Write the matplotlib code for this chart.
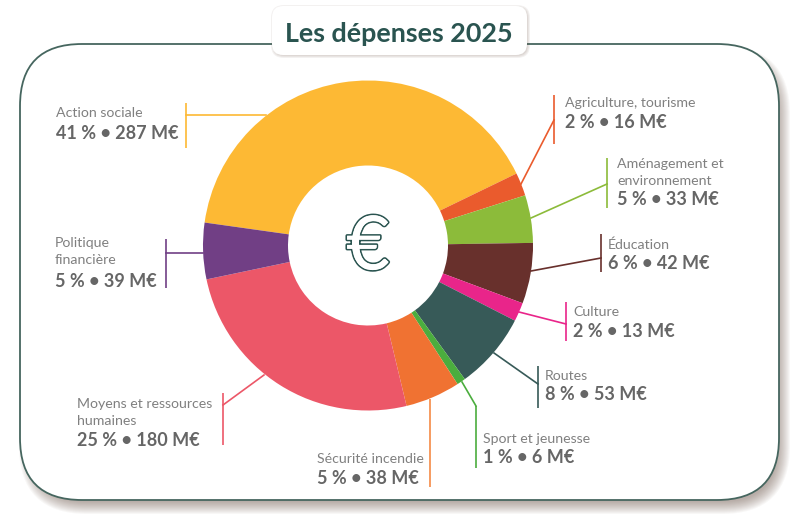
#!/usr/bin/env python3

import matplotlib
matplotlib.use('Agg')
import matplotlib.pyplot as plt
import matplotlib.patheffects as pe
from matplotlib.patches import FancyBboxPatch

plt.rcParams['font.family'] = ['Lato', 'DejaVu Sans']

# values in M€, clockwise from the top-left
names = ['Action sociale', 'Agriculture, tourisme', 'Aménagement et\nenvironnement', 'Éducation', 'Culture',
         'Routes', 'Sport et jeunesse', 'Sécurité incendie', 'Moyens et ressources\nhumaines', 'Politique\nfinancière']
amounts = [287, 16, 33, 42, 13, 53, 6, 38, 180, 39]
percents = [41, 2, 5, 6, 2, 8, 1, 5, 25, 5]
colors = ['#fdb934', '#ea5b2d', '#8cbb3a', '#68302c', '#e9258a', '#375a58', '#4bad3e', '#f07232', '#ec5768', '#713f85']
lineColors = ['#fdb934', '#ea5b2d', '#8cbb3a', '#68302c', '#e9258a', '#375a58', '#4bad3e', '#f58a45', '#ec5768', '#713f85']

# label anchor in pixels: x, baseline of the first name line, baseline of the value
labelPos = [(56, 117, 139), (565, 107, 128), (617, 168, 205), (608, 249, 269), (573, 316, 337),
            (545, 380, 400), (483, 443, 463), (317, 463, 484), (77, 408, 446), (55, 247, 287)]
# leader lines in pixels: tick x, tick top, tick bottom, then the polyline to the ring
leaders = [(186, 103, 148, [(186, 115), (266, 115)]),
           (554, 95, 144, [(554, 120), (521, 184)]),
           (607, 158, 208, [(607, 184), (531, 218)]),
           (601, 234, 272, [(601, 258), (531, 271)]),
           (566, 302, 341, [(566, 324), (519, 312)]),
           (538, 366, 408, [(538, 384), (494, 353)]),
           (476, 406, 468, [(476, 406), (462, 382)]),
           (430, 399, 487, [(430, 399), (430, 399)]),
           (223, 393, 445, [(223, 405), (264, 375)]),
           (166, 239, 288, [(166, 253), (203, 253)])]

W, H = 800, 525
darkGreen = '#2a5450'


def py(y):
    return H - y


def softShadow(ax, x0, y0, x1, y1, rad, dx, dy, spread, alpha, zorder):
    # stacked translucent boxes instead of a real blur
    for i in range(2 * spread + 1):
        grow = spread - i
        ax.add_patch(FancyBboxPatch((x0 + dx - grow, py(y1 + dy + grow)), x1 - x0 + 2 * grow, y1 - y0 + 2 * grow,
                                    boxstyle=f'round,pad=0,rounding_size={rad + grow}', fc='#6b4f45', ec='none',
                                    alpha=alpha, zorder=zorder))


fig = plt.figure(figsize=(W / 100, H / 100), dpi=100)
ax = fig.add_axes([0, 0, 1, 1])
ax.set_xlim(0, W)
ax.set_ylim(0, H)
ax.axis('off')

# frame
softShadow(ax, 20, 44, 779, 500, 62, 5, 8, 6, 0.045, 1)
ax.add_patch(FancyBboxPatch((20, py(500)), 759, 456, boxstyle='round,pad=0,rounding_size=62',
                            fc='white', ec='#46665f', lw=1.3, zorder=2))

# title tab
softShadow(ax, 272, 6, 527, 55, 11, 1, 1, 2, 0.08, 3)
ax.add_patch(FancyBboxPatch((272, py(55)), 255, 49, boxstyle='round,pad=0,rounding_size=11',
                            fc='white', ec='none', zorder=4))
ax.text(399, py(42), 'Les dépenses 2025', fontsize=19.4, fontweight='bold', color=darkGreen,
        ha='center', va='baseline', zorder=5)

# ring
wedges, _ = ax.pie(amounts, colors=colors, startangle=172, counterclock=False, center=(368, py(245.5)), radius=165,
                   frame=True, wedgeprops={'width': 85, 'linewidth': 0})
for w in wedges:
    w.set_zorder(6)
ax.set_xlim(0, W)
ax.set_ylim(0, H)
ax.set_aspect('equal')
ax.axis('off')

ax.text(368, py(248), '€', fontsize=54, color='white', ha='center', va='center', zorder=7,
        path_effects=[pe.withStroke(linewidth=2.4, foreground=darkGreen), pe.Normal()])

# leaders and labels
for i in range(len(names)):
    tickX, tickTop, tickBottom, poly = leaders[i]
    c = lineColors[i]
    ax.plot([tickX, tickX], [py(tickTop), py(tickBottom)], color=c, lw=1.2, zorder=5, solid_capstyle='butt')
    ax.plot([p[0] for p in poly], [py(p[1]) for p in poly], color=c, lw=1.2, zorder=5)

    x, yName, yValue = labelPos[i]
    for j, part in enumerate(names[i].split('\n')):
        ax.text(x, py(yName + j * 17), part, fontsize=10.2, color='#808080', ha='left', va='baseline', zorder=8)
    ax.text(x, py(yValue), f'{percents[i]} % • {amounts[i]} M€', fontsize=13, fontweight='bold', color='#666666',
            ha='left', va='baseline', zorder=8)

fig.savefig('out.png', dpi=100)
